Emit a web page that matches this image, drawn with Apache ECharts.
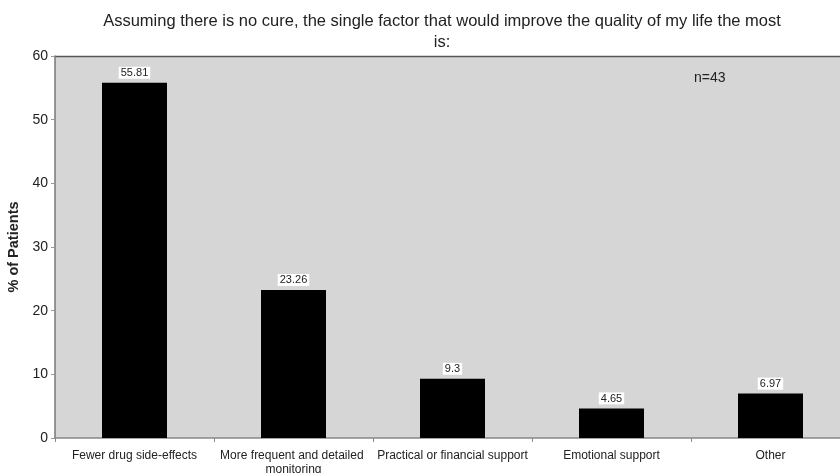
<!DOCTYPE html>
<html><head><meta charset="utf-8">
<script src="https://cdn.jsdelivr.net/npm/echarts@6/dist/echarts.min.js"></script>
<style>html,body{margin:0;padding:0;background:#fff}#c{width:840px;height:473px}</style>
</head><body><div id="c"></div>
<script>
var categories = ['Fewer drug side-effects', 'More frequent and detailed monitoring', 'Practical or financial support', 'Emotional support', 'Other'];
var values = [55.81, 23.26, 9.3, 4.65, 6.97];
var yTicks = [0, 10, 20, 30, 40, 50, 60];
var titleText = 'Assuming there is no cure, the single factor that would improve the quality of my life the most\nis:';
var noteText = 'n=43';

var chart = echarts.init(document.getElementById('c'), null, {renderer: 'canvas'});
chart.setOption({
  animation: false,
  backgroundColor: '#fff',
  title: {
    text: titleText,
    left: 437, top: 6, textAlign: 'center',
    textStyle: {fontFamily: 'Liberation Sans', fontSize: 16.5, fontWeight: 'normal', color: '#222', lineHeight: 21}
  },
  grid: {left: 55, top: 56, width: 795, bottom: 35, show: true, backgroundColor: '#d6d6d6', borderWidth: 0,
    outerBoundsMode: 'none', containLabel: false},
  graphic: [{
    type: 'text', left: 694, top: 71,
    style: {text: noteText, font: '14px Liberation Sans', fill: '#222'}
  }, {
    type: 'line', shape: {x1: 55, y1: 56.5, x2: 840, y2: 56.5}, style: {stroke: '#555', lineWidth: 1.5}
  }],
  xAxis: {
    type: 'category', data: categories,
    axisLine: {lineStyle: {color: '#888', width: 1.5}},
    axisTick: {show: true, length: 4, lineStyle: {color: '#888'}},
    axisLabel: {interval: 0, fontFamily: 'Liberation Sans', fontSize: 12, color: '#222', margin: 11, width: 152, overflow: 'break', lineHeight: 14},
    splitLine: {show: false}
  },
  yAxis: {
    type: 'value', min: 0, max: 60, interval: 10,
    name: '% of Patients', nameLocation: 'middle', nameGap: 30,
    nameTextStyle: {fontFamily: 'Liberation Sans', fontSize: 14.5, fontWeight: 'bold', color: '#222'},
    axisLine: {show: true, lineStyle: {color: '#777', width: 1.5}},
    axisTick: {show: true, length: 4, lineStyle: {color: '#999'}},
    axisLabel: {fontFamily: 'Liberation Sans', fontSize: 14, color: '#222', margin: 7,
      formatter: function (v) { return yTicks.indexOf(v) >= 0 ? String(v) : ''; }},
    splitLine: {show: false}
  },
  series: [{
    type: 'bar', data: values, barWidth: 65,
    itemStyle: {color: '#000'},
    label: {show: true, position: 'top', distance: 4, fontFamily: 'Liberation Sans', fontSize: 11, color: '#222',
      backgroundColor: '#fff', padding: [1, 2, 0, 2]}
  }]
});
</script></body></html>
